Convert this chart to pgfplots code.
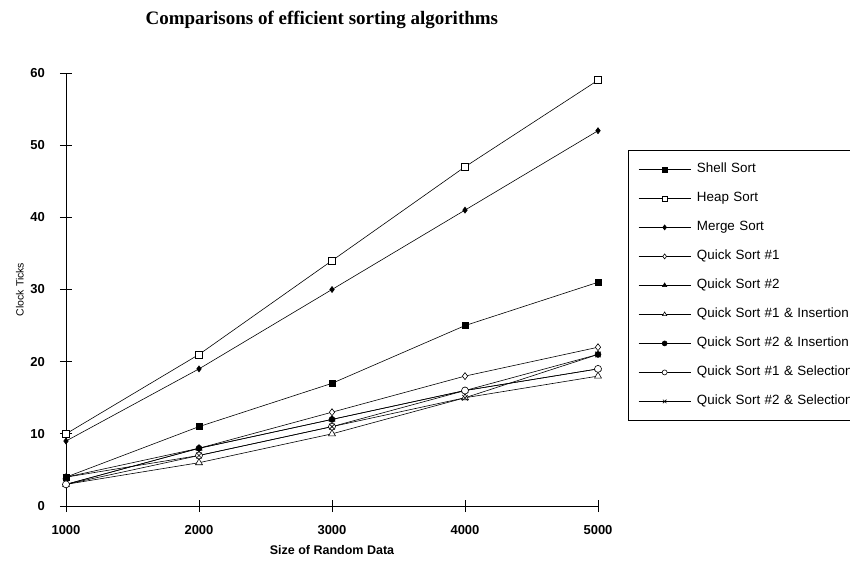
\documentclass[border=0pt]{standalone}
\usepackage{fontspec}
\setmainfont{Liberation Sans}
\newfontfamily\titlefont{Liberation Serif}
\usepackage{pgfplots}
\pgfplotsset{compat=1.18}

\begin{document}
\begin{tikzpicture}
\path[use as bounding box] (-66pt,-54pt) rectangle (784pt,506pt);
\begin{axis}[
  at={(0pt,0pt)}, anchor=south west,
  scale only axis, width=532pt, height=433pt,
  xmin=1000, xmax=5000, ymin=0, ymax=60,
  axis x line=bottom, axis y line=left,
  axis line style={-, line width=0.7pt},
  xtick={1000,2000,3000,4000,5000},
  ytick={0,10,20,30,40,50,60},
  tick align=center, major tick length=12pt,
  tick style={black, line width=0.7pt},
  /pgf/number format/assume math mode=true,
  /pgf/number format/set thousands separator={},
  yticklabel style={font=\fontsize{13}{15}\selectfont\bfseries, anchor=east, inner sep=0pt, xshift=-15pt},
  xticklabel style={font=\fontsize{13}{15}\selectfont\bfseries, anchor=center, inner sep=0pt, yshift=-18pt},
  title={\titlefont\bfseries Comparisons of efficient sorting algorithms},
  title style={font=\fontsize{19}{22}\selectfont, at={(0.481,1.108)}, anchor=center},
  xlabel={Size of Random Data},
  xlabel style={font=\fontsize{12.5}{15}\selectfont\bfseries, at={(axis description cs:0.5,-0.1016)}, anchor=center},
  ylabel={Clock Ticks},
  ylabel style={font=\fontsize{10.5}{12}\selectfont, at={(axis description cs:-0.0865,0.5)}, anchor=center},
  legend style={at={(1.0564,0.822)}, anchor=north west, draw=black, line width=0.7pt,
    font=\fontsize{13.4}{16}\selectfont, row sep=16pt, inner xsep=10pt, inner ysep=12.5pt,
    nodes={inner sep=0pt, text height=10pt, text depth=3pt},
    /tikz/every even column/.append style={text width=175pt}},
  legend cell align=left,
  legend image code/.code={\draw[mark repeat=2,mark phase=2,#1,mark size=2.5pt] plot coordinates {(0pt,0pt) (26pt,0pt) (52pt,0pt)}; \path (58pt,0pt);},
  every axis plot/.append style={black, line width=0.6pt, mark options={solid}},
]
% Shell Sort
\addplot[mark=square*, mark size=3pt, mark options={fill=black}] coordinates {(1000,4) (2000,11) (3000,17) (4000,25) (5000,31)};
\addlegendentry{Shell Sort}
% Heap Sort
\addplot[mark=square*, mark size=3.5pt, mark options={fill=white}] coordinates {(1000,10) (2000,21) (3000,34) (4000,47) (5000,59)};
\addlegendentry{Heap Sort}
% Merge Sort
\addplot[mark=diamond*, mark size=3pt, mark options={fill=black}] coordinates {(1000,9) (2000,19) (3000,30) (4000,41) (5000,52)};
\addlegendentry{Merge Sort}
% Quick Sort #1
\addplot[mark=diamond*, mark size=3.5pt, mark options={fill=white}] coordinates {(1000,3) (2000,8) (3000,13) (4000,18) (5000,22)};
\addlegendentry{Quick Sort \#1}
% Quick Sort #2
\addplot[mark=triangle*, mark size=3.5pt, mark options={fill=black}] coordinates {(1000,4) (2000,8) (3000,12) (4000,16) (5000,19)};
\addlegendentry{Quick Sort \#2}
% Quick Sort #1 & Insertion
\addplot[mark=triangle*, mark size=4pt, mark options={fill=white}] coordinates {(1000,3) (2000,6) (3000,10) (4000,15) (5000,18)};
\addlegendentry{Quick Sort \#1 \& Insertion}
% Quick Sort #2 & Insertion
\addplot[mark=*, mark size=3pt, mark options={fill=black}] coordinates {(1000,3) (2000,8) (3000,12) (4000,16) (5000,21)};
\addlegendentry{Quick Sort \#2 \& Insertion}
% Quick Sort #1 & Selection
\addplot[mark=*, mark size=3.5pt, mark options={fill=white}] coordinates {(1000,3) (2000,7) (3000,11) (4000,16) (5000,19)};
\addlegendentry{Quick Sort \#1 \& Selection}
% Quick Sort #2 & Selection
\addplot[mark=x, mark size=4pt] coordinates {(1000,4) (2000,7) (3000,11) (4000,15) (5000,21)};
\addlegendentry{Quick Sort \#2 \& Selection}
\end{axis}
\end{tikzpicture}
\end{document}
